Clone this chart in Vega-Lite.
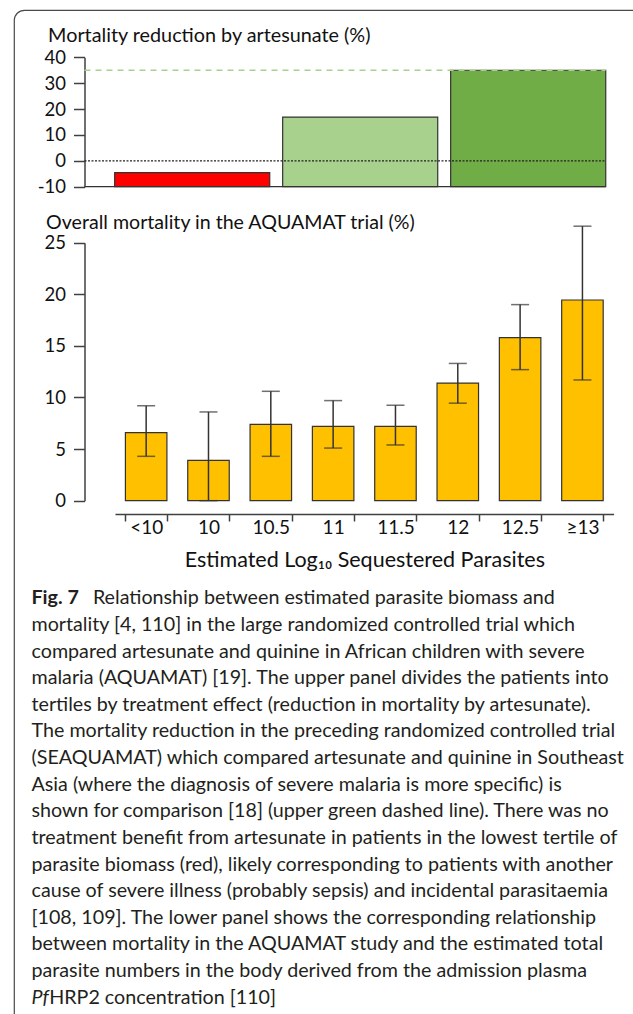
{
  "$schema": "https://vega.github.io/schema/vega-lite/v6.json",
  "width": 639,
  "height": 1024,
  "autosize": "none",
  "padding": {"left": 14, "top": 10, "right": -20, "bottom": -20},
  "background": "white",
  "config": {
    "view": {"stroke": "#4a4a4a", "strokeWidth": 1.2, "cornerRadius": 10},
    "font": "Lato",
    "axis": {"grid": false, "labelFont": "Lato", "titleFont": "Lato", "labelColor": "#111111", "titleColor": "#111111", "domainColor": "#404040", "tickColor": "#404040", "domainWidth": 1.5, "tickWidth": 1.5}
  },
  "datasets": {
    "tertiles": [
      {"tertile": "Lowest", "reduction": -4.6},
      {"tertile": "Middle", "reduction": 16.9},
      {"tertile": "Highest", "reduction": 35}
    ],
    "refLines": [
      {"ref": "SEAQUAMAT", "value": 35},
      {"ref": "zero", "value": 0},
      {"ref": "floor", "value": -10}
    ],
    "mortality": [
      {"bin": "<10", "mortality": 6.6, "lo": 4.3, "hi": 9.2},
      {"bin": "10", "mortality": 3.9, "lo": 0, "hi": 8.6},
      {"bin": "10.5", "mortality": 7.4, "lo": 4.3, "hi": 10.6},
      {"bin": "11", "mortality": 7.2, "lo": 5.1, "hi": 9.7},
      {"bin": "11.5", "mortality": 7.2, "lo": 5.4, "hi": 9.25},
      {"bin": "12", "mortality": 11.4, "lo": 9.45, "hi": 13.3},
      {"bin": "12.5", "mortality": 15.8, "lo": 12.7, "hi": 19.0},
      {"bin": "≥13", "mortality": 19.45, "lo": 11.7, "hi": 26.6}
    ],
    "caption": [
      {"line": 1, "kind": "label", "text": "Fig. 7"},
      {"line": 1, "kind": "body", "text": "Relationship between estimated parasite biomass and"},
      {"line": 2, "kind": "body", "text": "mortality [4, 110] in the large randomized controlled trial which"},
      {"line": 3, "kind": "body", "text": "compared artesunate and quinine in African children with severe"},
      {"line": 4, "kind": "body", "text": "malaria (AQUAMAT) [19]. The upper panel divides the patients into"},
      {"line": 5, "kind": "body", "text": "tertiles by treatment effect (reduction in mortality by artesunate)."},
      {"line": 6, "kind": "body", "text": "The mortality reduction in the preceding randomized controlled trial"},
      {"line": 7, "kind": "body", "text": "(SEAQUAMAT) which compared artesunate and quinine in Southeast"},
      {"line": 8, "kind": "body", "text": "Asia (where the diagnosis of severe malaria is more specific) is"},
      {"line": 9, "kind": "body", "text": "shown for comparison [18] (upper green dashed line). There was no"},
      {"line": 10, "kind": "body", "text": "treatment benefit from artesunate in patients in the lowest tertile of"},
      {"line": 11, "kind": "body", "text": "parasite biomass (red), likely corresponding to patients with another"},
      {"line": 12, "kind": "body", "text": "cause of severe illness (probably sepsis) and incidental parasitaemia"},
      {"line": 13, "kind": "body", "text": "[108, 109]. The lower panel shows the corresponding relationship"},
      {"line": 14, "kind": "body", "text": "between mortality in the AQUAMAT study and the estimated total"},
      {"line": 15, "kind": "body", "text": "parasite numbers in the body derived from the admission plasma"},
      {"line": 16, "kind": "italic", "text": "Pf"},
      {"line": 16, "kind": "body", "text": "HRP2 concentration [110]"}
    ]
  },
  "resolve": {
    "scale": {"x": "independent", "y": "independent", "color": "independent", "strokeDash": "independent", "strokeWidth": "independent"},
    "axis": {"x": "independent", "y": "independent"},
    "legend": {"color": "independent"}
  },
  "layer": [
    {
      "data": {"name": "tertiles"},
      "mark": {"type": "bar", "stroke": "#333333", "strokeWidth": 1.2},
      "encoding": {
        "x": {"field": "tertile", "type": "nominal", "sort": null,
              "scale": {"domain": ["Lowest", "Middle", "Highest"], "range": [94.2, 598.2], "paddingInner": 0.077, "paddingOuter": 0.0385},
              "axis": null},
        "y": {"field": "reduction", "type": "quantitative",
              "scale": {"domain": [-10, 40], "range": [176.7, 47.3], "nice": false, "zero": false},
              "axis": {"orient": "left", "offset": -70.5, "values": [-10, 0, 10, 20, 30, 40], "tickSize": 11, "labelPadding": 8, "labelFontSize": 18.5,
                       "labelExpr": "datum.value < 0 ? '-' + abs(datum.value) : datum.label",
                       "title": "Mortality reduction by artesunate (%)", "titleAngle": 0, "titleAlign": "left", "titleBaseline": "middle",
                       "titleX": -36.9, "titleY": 25, "titleFontSize": 19.8, "titleFontWeight": "normal"}},
        "y2": {"datum": -10},
        "color": {"field": "tertile", "type": "nominal",
                  "scale": {"domain": ["Lowest", "Middle", "Highest"], "range": ["#ff0000", "#a9d18e", "#70ad47"]},
                  "legend": null}
      }
    },
    {
      "data": {"name": "refLines"},
      "mark": {"type": "rule"},
      "encoding": {
        "x": {"datum": 0, "type": "quantitative", "scale": {"domain": [0, 1], "range": [70.5, 591.6], "nice": false, "zero": false}, "axis": null},
        "x2": {"datum": 1},
        "y": {"field": "value", "type": "quantitative",
              "scale": {"domain": [-10, 40], "range": [176.7, 47.3], "nice": false, "zero": false}, "axis": null},
        "color": {"field": "ref", "type": "nominal",
                  "scale": {"domain": ["SEAQUAMAT", "zero", "floor"], "range": ["#a9d18e", "#222222", "#333333"]}, "legend": null},
        "strokeDash": {"field": "ref", "type": "nominal",
                       "scale": {"domain": ["SEAQUAMAT", "zero", "floor"], "range": [[6, 5], [2, 1.5], [1, 0]]}, "legend": null},
        "strokeWidth": {"field": "ref", "type": "nominal",
                        "scale": {"domain": ["SEAQUAMAT", "zero", "floor"], "range": [1.5, 1.2, 1.6]}, "legend": null}
      }
    },
    {
      "data": {"name": "mortality"},
      "layer": [
        {
          "mark": {"type": "bar", "color": "#ffc000", "stroke": "#333333", "strokeWidth": 1.2},
          "encoding": {
            "x": {"field": "bin", "type": "nominal", "sort": null,
                  "scale": {"domain": ["<10", "10", "10.5", "11", "11.5", "12", "12.5", "≥13"], "range": [101, 599.6], "paddingInner": 0.334, "paddingOuter": 0.167},
                  "axis": {"orient": "bottom", "offset": -520, "tickSize": 7, "tickBand": "extent", "labelPadding": -3, "labelFontSize": 19, "labelAngle": 0,
                           "title": "Estimated Log₁₀ Sequestered Parasites", "titleFontSize": 21.5, "titleFontWeight": "normal", "titleY": 46, "titleBaseline": "middle"}},
            "y": {"field": "mortality", "type": "quantitative",
                  "scale": {"domain": [0, 25], "range": [490.7, 232.7], "nice": false, "zero": false},
                  "axis": {"orient": "left", "offset": -70.5, "values": [0, 5, 10, 15, 20, 25], "tickSize": 11, "labelPadding": 8, "labelFontSize": 18.5,
                           "title": "Overall mortality in the AQUAMAT trial (%)", "titleAngle": 0, "titleAlign": "left", "titleBaseline": "middle",
                           "titleX": -38.9, "titleY": 212.7, "titleFontSize": 19.6, "titleFontWeight": "normal"}},
            "y2": {"datum": 0}
          }
        },
        {
          "mark": {"type": "rule", "color": "#333333", "strokeWidth": 1.5},
          "encoding": {
            "x": {"field": "bin", "type": "nominal", "sort": null},
            "y": {"field": "lo", "type": "quantitative"},
            "y2": {"field": "hi"}
          }
        },
        {
          "mark": {"type": "tick", "color": "#333333", "size": 18, "thickness": 1.5},
          "encoding": {
            "x": {"field": "bin", "type": "nominal", "sort": null},
            "y": {"field": "lo", "type": "quantitative"}
          }
        },
        {
          "mark": {"type": "tick", "color": "#333333", "size": 18, "thickness": 1.5},
          "encoding": {
            "x": {"field": "bin", "type": "nominal", "sort": null},
            "y": {"field": "hi", "type": "quantitative"}
          }
        }
      ]
    },
    {
      "data": {"name": "caption"},
      "encoding": {
        "x": {"datum": 0, "type": "quantitative", "scale": {"domain": [0, 1], "range": [17.5, 600], "nice": false, "zero": false}, "axis": null},
        "y": {"field": "line", "type": "quantitative", "scale": {"domain": [1, 16], "range": [588.3, 987.7], "nice": false, "zero": false}, "axis": null},
        "text": {"field": "text"}
      },
      "layer": [
        {
          "transform": [{"filter": "datum.kind === 'label'"}],
          "mark": {"type": "text", "align": "left", "baseline": "middle", "font": "Lato", "fontSize": 19.7, "fontWeight": "bold", "color": "#231f20"}
        },
        {
          "transform": [{"filter": "datum.kind === 'body' && datum.line === 1"}],
          "mark": {"type": "text", "align": "left", "baseline": "middle", "font": "Lato", "fontSize": 19.7, "color": "#231f20", "dx": 61.4}
        },
        {
          "transform": [{"filter": "datum.kind === 'italic'"}],
          "mark": {"type": "text", "align": "left", "baseline": "middle", "font": "Lato", "fontSize": 19.7, "fontStyle": "italic", "color": "#231f20"}
        },
        {
          "transform": [{"filter": "datum.kind === 'body' && datum.line === 16"}],
          "mark": {"type": "text", "align": "left", "baseline": "middle", "font": "Lato", "fontSize": 19.7, "color": "#231f20", "dx": 17.7}
        },
        {
          "transform": [{"filter": "datum.kind === 'body' && datum.line !== 1 && datum.line !== 16"}],
          "mark": {"type": "text", "align": "left", "baseline": "middle", "font": "Lato", "fontSize": 19.7, "color": "#231f20"}
        }
      ]
    }
  ]
}
